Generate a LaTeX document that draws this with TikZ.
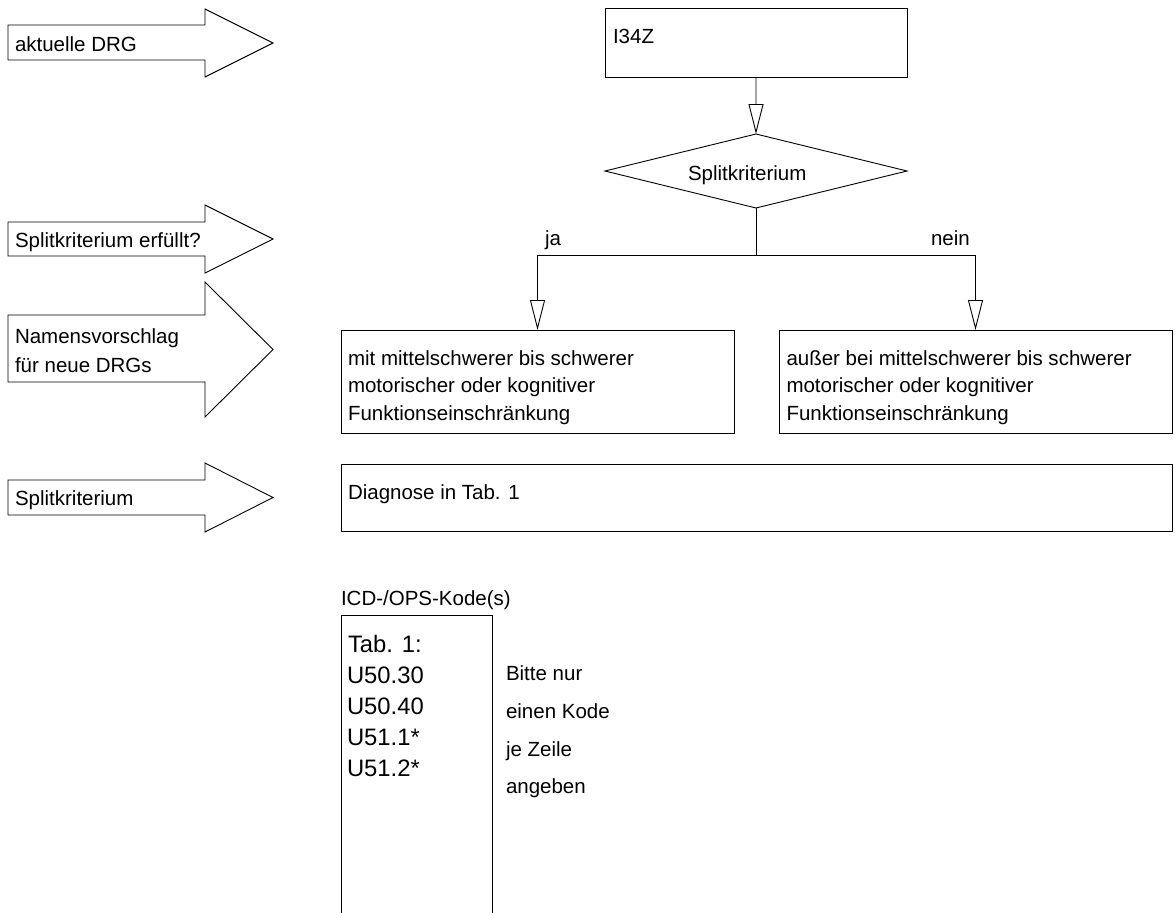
\documentclass[tikz,border=0pt]{standalone}
\usepackage{fontspec}
\setmainfont{Liberation Sans}
\usetikzlibrary{arrows.meta,shapes.geometric}
\begin{document}
\begin{tikzpicture}[x=1bp,y=-1bp,
  line width=0.9bp,
  every node/.style={outer sep=0pt},
  txt/.style={anchor=base west, inner sep=0pt, font=\fontsize{20.5bp}{24bp}\selectfont},
  codetxt/.style={anchor=base west, inner sep=0pt, font=\fontsize{23.8bp}{28bp}\selectfont},
  boxnode/.style={draw, rectangle, anchor=north west, inner sep=0pt},
  conn/.style={-{Triangle[open,length=30bp,width=15bp]}},
  bigarrow/.style={draw, line join=miter}
]
\useasboundingbox (0,0) rectangle (1175,913);

% left big arrows
\draw[bigarrow] (8,25) -- (205,25) -- (205,9) -- (273,43) -- (205,77) -- (205,60) -- (8,60) -- cycle;
\draw[bigarrow] (8,222) -- (205,222) -- (205,205) -- (273,239) -- (205,273) -- (205,256) -- (8,256) -- cycle;
\draw[bigarrow] (8,315) -- (205,315) -- (205,282) -- (273,349.5) -- (205,417) -- (205,382) -- (8,382) -- cycle;
\draw[bigarrow] (8,480) -- (205,480) -- (205,463) -- (273,497.5) -- (205,532) -- (205,515) -- (8,515) -- cycle;

\node[txt] (t1) at (15,51.5) {aktuelle DRG};
\node[txt] (t2) at (15,247) {Splitkriterium erfüllt?};
\node[txt] (t3a) at (15,343) {Namensvorschlag};
\node[txt] (t3b) at (15,372) {für neue DRGs};
\node[txt] (t4) at (15,505) {Splitkriterium};

% flow
\node[boxnode, minimum width=302bp, minimum height=69bp] (drg) at (605,8) {};
\node[txt] (drgt) at (613,43) {I34Z};
\node[draw, diamond, inner sep=0pt, minimum width=302bp, minimum height=74bp] (split) at (756,171) {};
\node[txt] (splitt) at (688,180) {Splitkriterium};

\node[boxnode, minimum width=393bp, minimum height=103bp] (yes) at (341,330) {};
\node[boxnode, minimum width=393bp, minimum height=103bp] (no) at (779,330) {};

\draw[conn] (drg) -- (split);
\draw[conn] (split.south) -- ++(0,47) -| (yes.north);
\draw[conn] (split.south) -- ++(0,47) -| (no.north);

\node[txt] (ja) at (545,245) {ja};
\node[txt] (nein) at (931,245) {nein};

\node[txt] (y1) at (348,365) {mit mittelschwerer bis schwerer};
\node[txt] (y2) at (348,392.7) {motorischer oder kognitiver};
\node[txt] (y3) at (348,420.5) {Funktionseinschränkung};
\node[txt] (n1) at (786.5,365) {außer bei mittelschwerer bis schwerer};
\node[txt] (n2) at (786.5,392.7) {motorischer oder kognitiver};
\node[txt] (n3) at (786.5,420.5) {Funktionseinschränkung};

\node[boxnode, minimum width=831bp, minimum height=67bp] (diag) at (341,464) {};
\node[txt] (diagt) at (348,499) {Diagnose in Tab. 1};

% codes
\node[txt] (icd) at (341,605) {ICD-/OPS-Kode(s)};
\draw (341,915) -- (341,615) -- (492,615) -- (492,915);
\node[codetxt] (c0) at (348,652) {Tab. 1:};
\node[codetxt] (c1) at (347,683) {U50.30};
\node[codetxt] (c2) at (347,714.3) {U50.40};
\node[codetxt] (c3) at (347,745.7) {U51.1*};
\node[codetxt] (c4) at (347,776.7) {U51.2*};

\node[txt] (b1) at (506,680) {Bitte nur};
\node[txt] (b2) at (506,718.3) {einen Kode};
\node[txt] (b3) at (506,756) {je Zeile};
\node[txt] (b4) at (506,793.3) {angeben};
\end{tikzpicture}
\end{document}
